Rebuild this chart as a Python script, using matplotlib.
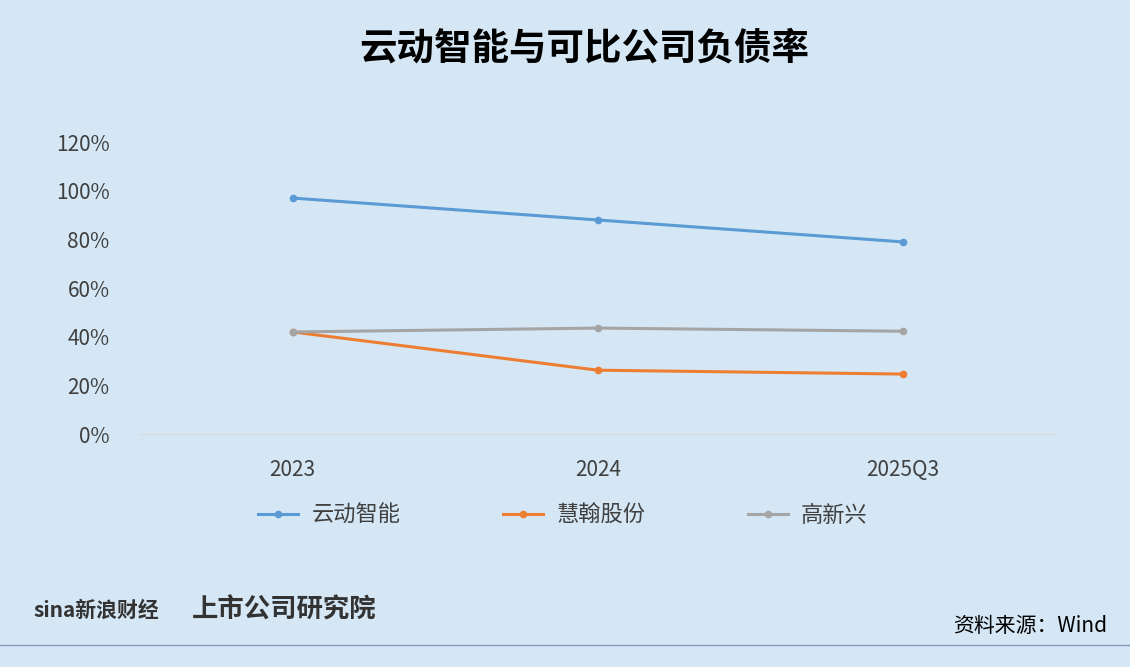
import matplotlib
matplotlib.use("Agg")
import matplotlib.pyplot as plt
from matplotlib.ticker import FuncFormatter

plt.rcParams['font.family'] = ['Noto Sans CJK SC', 'DejaVu Sans']

categories = ["2023", "2024", "2025Q3"]
yundong = [97, 88, 79]
huihan = [42, 26.3, 24.7]
gaoxinxing = [42, 43.6, 42.3]

bg = "#D5E7F5"
fig = plt.figure(figsize=(11.3, 6.67), dpi=100, facecolor=bg)
ax = fig.add_axes([0.124, 0.349, 0.81, 0.438], facecolor=bg)
x = range(len(categories))
ax.plot(x, yundong, color="#5B9BD5", lw=2.2, marker="o", ms=4.5, label="云动智能")
ax.plot(x, huihan, color="#ED7D31", lw=2.2, marker="o", ms=4.5, label="慧翰股份")
ax.plot(x, gaoxinxing, color="#A5A5A5", lw=2.2, marker="o", ms=4.5, label="高新兴")
ax.set_xlim(-0.5, 2.5)
ax.set_ylim(0, 120)
ax.set_yticks(range(0, 121, 20))
ax.yaxis.set_major_formatter(FuncFormatter(lambda v, p: f"{int(v)}%"))
ax.set_xticks(list(x))
ax.set_xticklabels(categories)
for s in ["top", "right", "left"]:
    ax.spines[s].set_visible(False)
ax.spines["bottom"].set_color("#D9D9D9")
ax.tick_params(axis="both", length=0, labelsize=15, colors="#404040")
ax.tick_params(axis="x", pad=18)
ax.tick_params(axis="y", pad=22)
ax.legend(loc="upper center", bbox_to_anchor=(0.462, -0.17), ncol=3, frameon=False,
          fontsize=16, handlelength=1.8, handletextpad=0.6, columnspacing=4.6,
          labelcolor="#404040")

fig.text(0.517, 0.928, "云动智能与可比公司负债率", ha="center", va="center",
         fontsize=27, fontweight="bold", color="black")
fig.text(0.03, 0.085, "sina新浪财经", fontsize=15, fontweight="bold", color="#333333", va="center")
fig.text(0.17, 0.085, "上市公司研究院", fontsize=19, fontweight="bold", style="italic",
         color="#333333", va="center")
fig.text(0.98, 0.062, "资料来源：Wind", ha="right", va="center", fontsize=15, color="black")
fig.add_artist(plt.Line2D([0, 1], [0.033, 0.033], color="#7F9DB9", lw=1))
fig.savefig("out.png", dpi=100, facecolor=bg)
